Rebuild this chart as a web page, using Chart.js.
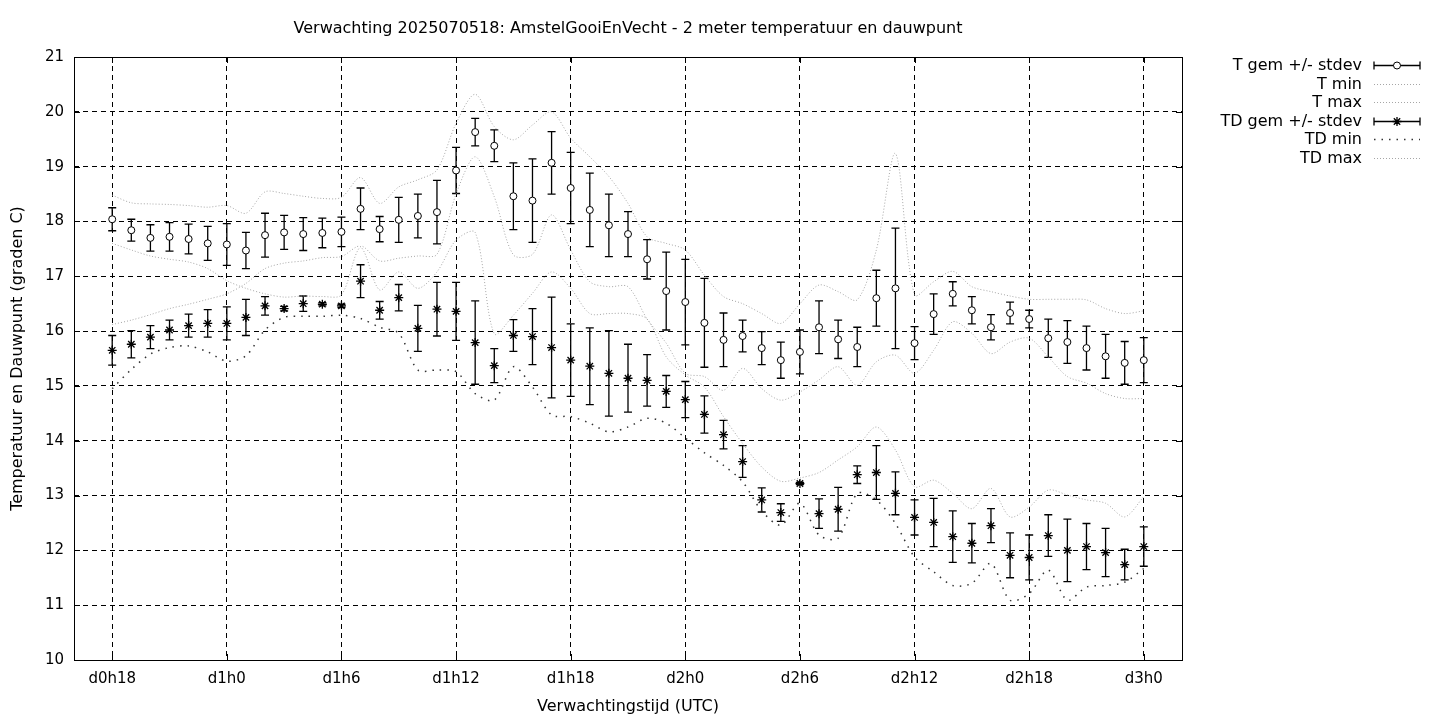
<!DOCTYPE html>
<html>
<head>
<meta charset="utf-8">
<script src="https://cdn.jsdelivr.net/npm/chart.js@4/dist/chart.umd.min.js"></script>
<style>
  html, body { margin: 0; padding: 0; background: #fff; }
  #wrap { width: 1440px; height: 720px; }
</style>
</head>
<body>
<div id="wrap"><canvas id="mychart" width="1440" height="720"></canvas></div>
<script>
// forecast hours (d0h0 = 0)
const hours = [18, 19, 20, 21, 22, 23, 24, 25, 26, 27, 28, 29, 30, 31, 32, 33, 34, 35, 36, 37,
  38, 39, 40, 41, 42, 43, 44, 45, 46, 47, 48, 49, 50, 51, 52, 53, 54, 55, 56, 57,
  58, 59, 60, 61, 62, 63, 64, 65, 66, 67, 68, 69, 70, 71, 72];
const tickHours = [18, 24, 30, 36, 42, 48, 54, 60, 66, 72];
const tickLabels = ['d0h18', 'd1h0', 'd1h6', 'd1h12', 'd1h18', 'd2h0', 'd2h6', 'd2h12', 'd2h18', 'd3h0'];

const tGem = [18.04, 17.84, 17.70, 17.72, 17.68, 17.60, 17.58, 17.47, 17.75, 17.80,
  17.77, 17.79, 17.81, 18.23, 17.86, 18.03, 18.10, 18.17, 18.93, 19.63,
  19.38, 18.46, 18.38, 19.07, 18.61, 18.21, 17.93, 17.77, 17.31, 16.73,
  16.53, 16.15, 15.84, 15.91, 15.69, 15.47, 15.62, 16.07, 15.85, 15.71,
  16.60, 16.78, 15.78, 16.31, 16.68, 16.38, 16.07, 16.33, 16.22, 15.87,
  15.80, 15.69, 15.54, 15.42, 15.47];
const tStdev = [0.21, 0.20, 0.24, 0.26, 0.27, 0.31, 0.38, 0.33, 0.40, 0.31,
  0.30, 0.27, 0.27, 0.38, 0.23, 0.41, 0.40, 0.58, 0.42, 0.25,
  0.29, 0.61, 0.76, 0.57, 0.65, 0.67, 0.57, 0.41, 0.36, 0.71,
  0.78, 0.81, 0.49, 0.29, 0.30, 0.33, 0.40, 0.48, 0.35, 0.36,
  0.51, 1.10, 0.30, 0.37, 0.22, 0.25, 0.23, 0.20, 0.16, 0.35,
  0.39, 0.40, 0.40, 0.39, 0.41];
const tMin = [17.60, 17.48, 17.37, 17.31, 17.26, 17.14, 16.92, 16.78, 16.68, 16.62,
  16.64, 16.63, 16.66, 17.54, 17.28, 17.33, 17.37, 17.40, 18.50, 19.18,
  18.45, 17.39, 17.40, 18.12, 17.48, 16.90, 16.81, 16.81, 16.22, 15.78,
  15.23, 15.17, 14.92, 15.32, 14.95, 14.74, 14.89, 15.11, 15.35, 15.01,
  15.44, 15.56, 15.23, 15.65, 16.17, 15.96, 15.59, 15.80, 15.87, 15.53,
  15.17, 15.05, 14.86, 14.77, 14.77];
const tMax = [18.48, 18.34, 18.32, 18.31, 18.29, 18.26, 18.29, 18.15, 18.54, 18.51,
  18.46, 18.42, 18.44, 18.80, 18.33, 18.63, 18.76, 18.94, 19.79, 20.32,
  19.73, 19.49, 19.76, 20.00, 19.52, 19.18, 18.82, 18.33, 17.72, 17.60,
  17.48, 17.02, 16.63, 16.50, 16.32, 16.14, 16.50, 16.84, 16.72, 16.57,
  17.48, 19.24, 16.66, 16.90, 17.09, 16.81, 16.72, 16.64, 16.58, 16.58,
  16.58, 16.57, 16.41, 16.32, 16.37];

const tdGem = [15.65, 15.76, 15.89, 16.02, 16.10, 16.14, 16.14, 16.25, 16.46, 16.41,
  16.50, 16.49, 16.46, 16.91, 16.38, 16.61, 16.05, 16.40, 16.36, 15.79,
  15.37, 15.92, 15.90, 15.70, 15.47, 15.36, 15.23, 15.14, 15.10, 14.90,
  14.75, 14.48, 14.11, 13.62, 12.92, 12.69, 13.22, 12.67, 12.75, 13.38,
  13.42, 13.04, 12.60, 12.51, 12.25, 12.13, 12.45, 11.91, 11.87, 12.27,
  12.00, 12.07, 11.96, 11.74, 12.07];
const tdStdev = [0.27, 0.25, 0.21, 0.18, 0.21, 0.25, 0.30, 0.33, 0.17, 0.04,
  0.14, 0.03, 0.03, 0.30, 0.16, 0.24, 0.42, 0.49, 0.53, 0.76,
  0.31, 0.29, 0.51, 0.92, 0.66, 0.70, 0.78, 0.62, 0.47, 0.29,
  0.33, 0.34, 0.26, 0.29, 0.22, 0.16, 0.02, 0.27, 0.40, 0.16,
  0.49, 0.39, 0.32, 0.44, 0.47, 0.36, 0.31, 0.41, 0.41, 0.38,
  0.57, 0.42, 0.44, 0.28, 0.36];
const tdMin = [14.95, 15.30, 15.58, 15.70, 15.73, 15.62, 15.45, 15.55, 16.02, 16.25,
  16.27, 16.27, 16.29, 16.23, 16.07, 15.96, 15.29, 15.29, 15.26, 14.86,
  14.74, 15.35, 14.98, 14.47, 14.44, 14.32, 14.16, 14.25, 14.41, 14.32,
  14.05, 13.78, 13.55, 13.25, 12.72, 12.46, 12.86, 12.28, 12.22, 13.04,
  12.92, 12.49, 11.88, 11.61, 11.36, 11.40, 11.76, 11.09, 11.21, 11.64,
  11.09, 11.33, 11.36, 11.42, 11.67];
const tdMax = [16.12, 16.20, 16.30, 16.41, 16.49, 16.58, 16.68, 16.87, 17.14, 17.24,
  17.28, 17.34, 17.36, 17.54, 16.75, 17.08, 16.78, 17.08, 17.66, 17.80,
  15.95, 16.29, 16.69, 17.08, 16.78, 16.32, 16.32, 16.32, 16.22, 15.53,
  15.20, 14.98, 14.44, 13.95, 13.52, 13.26, 13.32, 13.42, 13.65, 13.89,
  14.25, 13.83, 13.16, 13.28, 13.04, 12.76, 13.13, 12.61, 12.79, 13.10,
  13.01, 12.92, 12.86, 12.61, 12.98];

const FONT = "'DejaVu Sans', sans-serif";
Chart.defaults.font.family = FONT;
Chart.defaults.font.size = 15;
Chart.defaults.color = '#000';

function pts(vals) {
  return vals.map((v, i) => ({ x: hours[i], y: v }));
}

function drawMarker(ctx, style, x, y, r) {
  ctx.beginPath();
  if (style === 'circle') {
    ctx.arc(x, y, r, 0, Math.PI * 2);
    ctx.fillStyle = '#fff';
    ctx.fill();
  } else {
    for (let k = 0; k < 4; k++) {
      const a = k * Math.PI / 4;
      ctx.moveTo(x - r * Math.cos(a), y - r * Math.sin(a));
      ctx.lineTo(x + r * Math.cos(a), y + r * Math.sin(a));
    }
  }
  ctx.stroke();
}

// error bars (mean +/- stdev), drawn under the markers
const errorBars = {
  id: 'errorBars',
  beforeDatasetsDraw(chart) {
    const ctx = chart.ctx, xs = chart.scales.x, ys = chart.scales.y;
    ctx.save();
    ctx.strokeStyle = '#000';
    ctx.lineWidth = 1.3;
    chart.data.datasets.forEach(ds => {
      if (!ds.stdev) return;
      ds.data.forEach((p, i) => {
        const x = xs.getPixelForValue(p.x);
        const lo = ys.getPixelForValue(p.y - ds.stdev[i]);
        const hi = ys.getPixelForValue(p.y + ds.stdev[i]);
        ctx.beginPath();
        ctx.moveTo(x, lo); ctx.lineTo(x, hi);
        ctx.moveTo(x - 4, lo); ctx.lineTo(x + 4, lo);
        ctx.moveTo(x - 4, hi); ctx.lineTo(x + 4, hi);
        ctx.stroke();
      });
    });
    ctx.restore();
  }
};

// frame, inward tics, title and the legend at the right
const frame = {
  id: 'frame',
  afterDraw(chart) {
    const ctx = chart.ctx, a = chart.chartArea;
    const xs = chart.scales.x, ys = chart.scales.y;
    ctx.save();
    ctx.strokeStyle = '#000';
    ctx.lineWidth = 1;
    ctx.setLineDash([]);
    ctx.strokeRect(Math.round(a.left) + 0.5, Math.round(a.top) + 0.5,
      Math.round(a.right - a.left), Math.round(a.bottom - a.top));
    ctx.beginPath();
    xs.ticks.forEach(t => {
      const x = Math.round(xs.getPixelForValue(t.value)) + 0.5;
      ctx.moveTo(x, a.bottom); ctx.lineTo(x, a.bottom - 6);
      ctx.moveTo(x, a.top); ctx.lineTo(x, a.top + 6);
    });
    ys.ticks.forEach(t => {
      const y = Math.round(ys.getPixelForValue(t.value)) + 0.5;
      ctx.moveTo(a.left, y); ctx.lineTo(a.left + 6, y);
      ctx.moveTo(a.right, y); ctx.lineTo(a.right - 6, y);
    });
    ctx.stroke();

    ctx.fillStyle = '#000';
    ctx.font = '16px ' + FONT;
    ctx.textAlign = 'center';
    ctx.textBaseline = 'middle';
    ctx.fillText('Verwachting 2025070518: AmstelGooiEnVecht - 2 meter temperatuur en dauwpunt',
      (a.left + a.right) / 2, 29);

    ctx.textAlign = 'right';
    chart.data.datasets.forEach((ds, i) => {
      const y = Math.round(65 + i * 18.6) + 0.5;
      ctx.fillStyle = '#000';
      ctx.fillText(ds.label, 1362, y);
      const x0 = 1374, x1 = 1420;
      if (ds.stdev) {
        ctx.strokeStyle = '#000';
        ctx.lineWidth = 1.3;
        ctx.setLineDash([]);
        ctx.beginPath();
        ctx.moveTo(x0, y); ctx.lineTo(x1, y);
        ctx.moveTo(x0, y - 4); ctx.lineTo(x0, y + 4);
        ctx.moveTo(x1, y - 4); ctx.lineTo(x1, y + 4);
        ctx.stroke();
        ctx.lineWidth = ds.pointBorderWidth;
        drawMarker(ctx, ds.pointStyle, (x0 + x1) / 2, y, ds.pointRadius);
      } else {
        ctx.strokeStyle = ds.borderColor;
        ctx.lineWidth = ds.borderWidth;
        ctx.setLineDash(ds.borderDash);
        ctx.beginPath();
        ctx.moveTo(x0, y); ctx.lineTo(x1, y);
        ctx.stroke();
      }
    });
    ctx.restore();
  }
};

const grey = '#a6a6a6';
const gridOpts = { color: '#000', lineWidth: 1, drawTicks: false };

new Chart(document.getElementById('mychart').getContext('2d'), {
  type: 'line',
  data: {
    datasets: [
      { label: 'T gem +/- stdev', data: pts(tGem), stdev: tStdev, showLine: false,
        pointStyle: 'circle', pointRadius: 3.5, pointBackgroundColor: '#fff',
        pointBorderColor: '#000', pointBorderWidth: 1, borderColor: '#000' },
      { label: 'T min', data: pts(tMin), borderColor: grey, borderWidth: 1,
        borderDash: [1, 2], pointRadius: 0, tension: 0.3 },
      { label: 'T max', data: pts(tMax), borderColor: grey, borderWidth: 1,
        borderDash: [1, 2], pointRadius: 0, tension: 0.3 },
      { label: 'TD gem +/- stdev', data: pts(tdGem), stdev: tdStdev, showLine: false,
        pointStyle: 'star', pointRadius: 4.5, pointBorderColor: '#000',
        pointBorderWidth: 1.3, borderColor: '#000' },
      { label: 'TD min', data: pts(tdMin), borderColor: '#333', borderWidth: 1.5,
        borderDash: [1.5, 6], pointRadius: 0, tension: 0.3 },
      { label: 'TD max', data: pts(tdMax), borderColor: grey, borderWidth: 1,
        borderDash: [1, 2], pointRadius: 0, tension: 0.3 }
    ]
  },
  options: {
    responsive: false,
    animation: false,
    devicePixelRatio: 1,
    layout: { padding: { top: 57, right: 258, bottom: 0, left: 0 } },
    plugins: { legend: { display: false }, tooltip: { enabled: false } },
    scales: {
      x: {
        type: 'linear', min: 16, max: 74,
        afterBuildTicks(scale) { scale.ticks = tickHours.map(v => ({ value: v })); },
        afterFit(scale) { scale.height = 60; },
        ticks: { autoSkip: false, maxRotation: 0, padding: 10,
          callback: v => tickLabels[tickHours.indexOf(v)] },
        grid: gridOpts,
        border: { display: false, dash: [5, 4] },
        title: { display: true, text: 'Verwachtingstijd (UTC)', font: { size: 16 },
          padding: { top: 0, bottom: 3.4 } }
      },
      y: {
        min: 10, max: 21,
        afterFit(scale) { scale.width = 74; },
        ticks: { stepSize: 1, padding: 10 },
        grid: gridOpts,
        border: { display: false, dash: [5, 4] },
        title: { display: true, text: 'Temperatuur en Dauwpunt (graden C)', font: { size: 16 },
          padding: { top: 8.4, bottom: 0 } }
      }
    }
  },
  plugins: [errorBars, frame]
});
</script>
</body>
</html>
